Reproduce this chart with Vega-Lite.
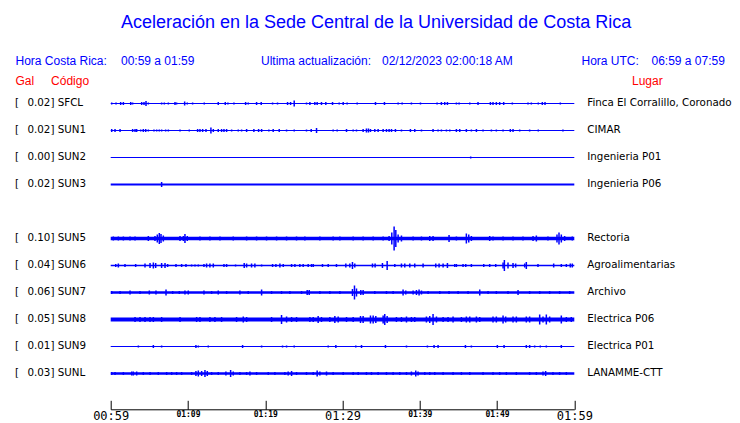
{
  "$schema": "https://vega.github.io/schema/vega-lite/v6.json",
  "width": 463.6,
  "height": 319.3,
  "autosize": {"type": "none"},
  "padding": {"left": 110.7, "top": 90, "right": 165.7, "bottom": 13.7},
  "background": "white",
  "config": {"view": {"stroke": null}},
  "datasets": {
    "stations": [
      {"k": 0, "label": "0.02] SFCL", "place": "Finca El Corralillo, Coronado", "base": 1.2},
      {"k": 1, "label": "0.02] SUN1", "place": "CIMAR", "base": 1.2},
      {"k": 2, "label": "0.00] SUN2", "place": "Ingenieria P01", "base": 1.2},
      {"k": 3, "label": "0.02] SUN3", "place": "Ingenieria P06", "base": 2},
      {"k": 5, "label": "0.10] SUN5", "place": "Rectoria", "base": 3.5},
      {"k": 6, "label": "0.04] SUN6", "place": "Agroalimentarias", "base": 1.6},
      {"k": 7, "label": "0.06] SUN7", "place": "Archivo", "base": 2.5},
      {"k": 8, "label": "0.05] SUN8", "place": "Electrica P06", "base": 4},
      {"k": 9, "label": "0.01] SUN9", "place": "Electrica P01", "base": 1.2},
      {"k": 10, "label": "0.03] SUNL", "place": "LANAMME-CTT", "base": 2.4}
    ],
    "spikes": [
      {"k":0,"t":0.13,"a":2},{"k":0,"t":0.69,"a":2},{"k":0,"t":1.29,"a":3},{"k":0,"t":1.64,"a":3},{"k":0,"t":2.59,"a":3},{"k":0,"t":2.84,"a":2},{"k":0,"t":4.01,"a":3},{"k":0,"t":4.31,"a":3},{"k":0,"t":4.57,"a":5},{"k":0,"t":4.87,"a":2},{"k":0,"t":6.59,"a":2},{"k":0,"t":6.94,"a":2},{"k":0,"t":7.46,"a":2},{"k":0,"t":8.32,"a":3},{"k":0,"t":8.53,"a":2},{"k":0,"t":9.57,"a":4},{"k":0,"t":9.91,"a":2},{"k":0,"t":10.6,"a":2},{"k":0,"t":12.11,"a":2},{"k":0,"t":13.92,"a":3},{"k":0,"t":14.83,"a":3},{"k":0,"t":15.17,"a":2},{"k":0,"t":15.95,"a":2},{"k":0,"t":17.46,"a":3},{"k":0,"t":17.8,"a":2},{"k":0,"t":18.88,"a":3},{"k":0,"t":19.48,"a":3},{"k":0,"t":20.95,"a":2},{"k":0,"t":21.59,"a":2},{"k":0,"t":22.89,"a":3},{"k":0,"t":23.28,"a":3},{"k":0,"t":23.75,"a":6},{"k":0,"t":25.34,"a":2},{"k":0,"t":25.78,"a":3},{"k":0,"t":26.42,"a":3},{"k":0,"t":26.72,"a":3},{"k":0,"t":27.28,"a":3},{"k":0,"t":27.84,"a":3},{"k":0,"t":28.71,"a":3},{"k":0,"t":29.57,"a":2},{"k":0,"t":30.09,"a":3},{"k":0,"t":30.6,"a":2},{"k":0,"t":31.9,"a":2},{"k":0,"t":34.27,"a":3},{"k":0,"t":35.43,"a":3},{"k":0,"t":37.2,"a":2},{"k":0,"t":37.72,"a":2},{"k":0,"t":38.92,"a":2},{"k":0,"t":40.09,"a":2},{"k":0,"t":42.24,"a":2},{"k":0,"t":42.8,"a":3},{"k":0,"t":43.23,"a":3},{"k":0,"t":43.58,"a":3},{"k":0,"t":44.74,"a":2},{"k":0,"t":45.09,"a":2},{"k":0,"t":46.47,"a":2},{"k":0,"t":47.54,"a":3},{"k":0,"t":49.14,"a":3},{"k":0,"t":49.48,"a":3},{"k":0,"t":49.91,"a":3},{"k":0,"t":50.34,"a":3},{"k":0,"t":50.86,"a":3},{"k":0,"t":51.98,"a":2},{"k":0,"t":54.01,"a":2},{"k":0,"t":54.44,"a":2},{"k":0,"t":55.34,"a":2},{"k":0,"t":55.86,"a":3},{"k":0,"t":56.21,"a":3},{"k":0,"t":58.19,"a":2},
      {"k":1,"t":0.13,"a":3},{"k":1,"t":0.56,"a":3},{"k":1,"t":1.21,"a":3},{"k":1,"t":2.84,"a":3},{"k":1,"t":3.15,"a":3},{"k":1,"t":3.36,"a":3},{"k":1,"t":3.88,"a":2},{"k":1,"t":4.22,"a":3},{"k":1,"t":4.53,"a":3},{"k":1,"t":4.87,"a":2},{"k":1,"t":5.6,"a":2},{"k":1,"t":5.95,"a":2},{"k":1,"t":6.29,"a":2},{"k":1,"t":6.59,"a":2},{"k":1,"t":7.11,"a":2},{"k":1,"t":7.46,"a":2},{"k":1,"t":8.97,"a":2},{"k":1,"t":10.17,"a":2},{"k":1,"t":11.25,"a":3},{"k":1,"t":11.55,"a":3},{"k":1,"t":11.9,"a":3},{"k":1,"t":12.33,"a":3},{"k":1,"t":12.97,"a":6},{"k":1,"t":13.28,"a":3},{"k":1,"t":13.92,"a":3},{"k":1,"t":14.35,"a":3},{"k":1,"t":14.66,"a":3},{"k":1,"t":15.0,"a":3},{"k":1,"t":15.65,"a":2},{"k":1,"t":16.51,"a":2},{"k":1,"t":16.94,"a":2},{"k":1,"t":17.59,"a":3},{"k":1,"t":18.53,"a":3},{"k":1,"t":19.14,"a":3},{"k":1,"t":19.53,"a":3},{"k":1,"t":20.47,"a":2},{"k":1,"t":21.03,"a":3},{"k":1,"t":21.81,"a":3},{"k":1,"t":22.76,"a":2},{"k":1,"t":23.75,"a":2},{"k":1,"t":25.34,"a":2},{"k":1,"t":25.95,"a":3},{"k":1,"t":26.64,"a":5},{"k":1,"t":28.79,"a":2},{"k":1,"t":29.31,"a":2},{"k":1,"t":30.52,"a":3},{"k":1,"t":31.38,"a":2},{"k":1,"t":31.81,"a":2},{"k":1,"t":32.67,"a":3},{"k":1,"t":33.1,"a":4},{"k":1,"t":33.36,"a":4},{"k":1,"t":33.62,"a":3},{"k":1,"t":34.18,"a":3},{"k":1,"t":34.61,"a":3},{"k":1,"t":35.26,"a":3},{"k":1,"t":35.69,"a":3},{"k":1,"t":36.03,"a":3},{"k":1,"t":36.34,"a":3},{"k":1,"t":36.85,"a":3},{"k":1,"t":37.63,"a":2},{"k":1,"t":38.79,"a":3},{"k":1,"t":39.35,"a":3},{"k":1,"t":40.22,"a":2},{"k":1,"t":41.72,"a":3},{"k":1,"t":42.37,"a":2},{"k":1,"t":42.8,"a":2},{"k":1,"t":43.45,"a":2},{"k":1,"t":43.88,"a":2},{"k":1,"t":44.74,"a":3},{"k":1,"t":45.17,"a":3},{"k":1,"t":46.03,"a":3},{"k":1,"t":46.68,"a":2},{"k":1,"t":47.33,"a":3},{"k":1,"t":48.19,"a":2},{"k":1,"t":49.27,"a":2},{"k":1,"t":49.91,"a":2},{"k":1,"t":50.78,"a":2},{"k":1,"t":51.72,"a":3},{"k":1,"t":52.07,"a":3},{"k":1,"t":52.93,"a":2},{"k":1,"t":54.22,"a":2},{"k":1,"t":55.34,"a":2},{"k":1,"t":58.53,"a":2},
      {"k":2,"t":46.59,"a":2},
      {"k":3,"t":6.59,"a":5},
      {"k":5,"t":0.34,"a":4},{"k":5,"t":0.99,"a":4},{"k":5,"t":1.64,"a":4},{"k":5,"t":2.5,"a":4},{"k":5,"t":3.15,"a":4},{"k":5,"t":4.87,"a":5},{"k":5,"t":5.73,"a":5},{"k":5,"t":6.03,"a":8},{"k":5,"t":6.29,"a":11},{"k":5,"t":6.51,"a":9},{"k":5,"t":6.81,"a":6},{"k":5,"t":8.97,"a":5},{"k":5,"t":9.4,"a":5},{"k":5,"t":9.61,"a":9},{"k":5,"t":9.91,"a":5},{"k":5,"t":11.55,"a":4},{"k":5,"t":12.84,"a":4},{"k":5,"t":14.14,"a":4},{"k":5,"t":15.86,"a":4},{"k":5,"t":17.59,"a":4},{"k":5,"t":18.88,"a":4},{"k":5,"t":20.17,"a":4},{"k":5,"t":21.47,"a":4},{"k":5,"t":22.76,"a":4},{"k":5,"t":24.05,"a":4},{"k":5,"t":25.13,"a":4},{"k":5,"t":27.07,"a":4},{"k":5,"t":28.79,"a":4},{"k":5,"t":29.66,"a":4},{"k":5,"t":31.38,"a":4},{"k":5,"t":32.67,"a":4},{"k":5,"t":33.97,"a":4},{"k":5,"t":35.26,"a":4},{"k":5,"t":36.03,"a":5},{"k":5,"t":36.38,"a":12},{"k":5,"t":36.68,"a":24},{"k":5,"t":36.9,"a":17},{"k":5,"t":37.2,"a":8},{"k":5,"t":37.63,"a":6},{"k":5,"t":39.14,"a":4},{"k":5,"t":40.22,"a":4},{"k":5,"t":41.29,"a":5},{"k":5,"t":41.72,"a":5},{"k":5,"t":43.79,"a":7},{"k":5,"t":44.74,"a":4},{"k":5,"t":46.03,"a":10},{"k":5,"t":46.34,"a":8},{"k":5,"t":46.68,"a":5},{"k":5,"t":49.05,"a":5},{"k":5,"t":49.48,"a":4},{"k":5,"t":50.78,"a":4},{"k":5,"t":52.07,"a":4},{"k":5,"t":53.36,"a":4},{"k":5,"t":54.66,"a":5},{"k":5,"t":55.09,"a":6},{"k":5,"t":56.59,"a":4},{"k":5,"t":57.76,"a":8},{"k":5,"t":58.02,"a":12},{"k":5,"t":58.32,"a":8},{"k":5,"t":58.75,"a":5},{"k":5,"t":59.74,"a":4},
      {"k":6,"t":0.65,"a":3},{"k":6,"t":0.99,"a":4},{"k":6,"t":1.85,"a":3},{"k":6,"t":3.23,"a":3},{"k":6,"t":4.44,"a":4},{"k":6,"t":5.09,"a":5},{"k":6,"t":5.52,"a":6},{"k":6,"t":5.82,"a":5},{"k":6,"t":6.59,"a":5},{"k":6,"t":7.03,"a":5},{"k":6,"t":7.37,"a":3},{"k":6,"t":8.45,"a":3},{"k":6,"t":9.18,"a":3},{"k":6,"t":9.74,"a":3},{"k":6,"t":10.47,"a":2},{"k":6,"t":10.91,"a":2},{"k":6,"t":11.34,"a":2},{"k":6,"t":12.07,"a":3},{"k":6,"t":12.41,"a":4},{"k":6,"t":12.84,"a":4},{"k":6,"t":13.28,"a":4},{"k":6,"t":14.66,"a":3},{"k":6,"t":15.0,"a":3},{"k":6,"t":16.16,"a":2},{"k":6,"t":17.28,"a":5},{"k":6,"t":17.59,"a":4},{"k":6,"t":18.23,"a":4},{"k":6,"t":18.66,"a":4},{"k":6,"t":19.53,"a":2},{"k":6,"t":20.95,"a":3},{"k":6,"t":21.38,"a":3},{"k":6,"t":21.9,"a":4},{"k":6,"t":22.33,"a":3},{"k":6,"t":23.41,"a":3},{"k":6,"t":23.84,"a":3},{"k":6,"t":24.48,"a":3},{"k":6,"t":24.91,"a":3},{"k":6,"t":25.56,"a":3},{"k":6,"t":25.99,"a":3},{"k":6,"t":26.21,"a":3},{"k":6,"t":27.41,"a":3},{"k":6,"t":28.15,"a":3},{"k":6,"t":29.22,"a":3},{"k":6,"t":30.43,"a":4},{"k":6,"t":30.95,"a":4},{"k":6,"t":31.29,"a":7},{"k":6,"t":31.59,"a":4},{"k":6,"t":33.88,"a":4},{"k":6,"t":34.22,"a":4},{"k":6,"t":35.17,"a":5},{"k":6,"t":35.78,"a":9},{"k":6,"t":36.77,"a":3},{"k":6,"t":37.63,"a":4},{"k":6,"t":38.06,"a":4},{"k":6,"t":38.71,"a":4},{"k":6,"t":39.35,"a":4},{"k":6,"t":40.43,"a":4},{"k":6,"t":42.07,"a":4},{"k":6,"t":42.5,"a":4},{"k":6,"t":43.02,"a":4},{"k":6,"t":43.58,"a":5},{"k":6,"t":44.53,"a":3},{"k":6,"t":44.74,"a":3},{"k":6,"t":45.6,"a":3},{"k":6,"t":45.95,"a":3},{"k":6,"t":46.68,"a":3},{"k":6,"t":48.28,"a":3},{"k":6,"t":49.05,"a":3},{"k":6,"t":49.83,"a":3},{"k":6,"t":50.78,"a":6},{"k":6,"t":50.95,"a":11},{"k":6,"t":51.42,"a":6},{"k":6,"t":52.07,"a":5},{"k":6,"t":52.41,"a":4},{"k":6,"t":53.58,"a":4},{"k":6,"t":53.79,"a":7},{"k":6,"t":55.3,"a":3},{"k":6,"t":57.33,"a":4},{"k":6,"t":58.32,"a":3},{"k":6,"t":58.97,"a":3},{"k":6,"t":59.48,"a":4},{"k":6,"t":59.74,"a":4},
      {"k":7,"t":0.13,"a":3},{"k":7,"t":1.21,"a":3},{"k":7,"t":2.5,"a":4},{"k":7,"t":3.79,"a":3},{"k":7,"t":5.0,"a":4},{"k":7,"t":5.86,"a":4},{"k":7,"t":7.16,"a":6},{"k":7,"t":8.02,"a":3},{"k":7,"t":8.88,"a":3},{"k":7,"t":9.61,"a":4},{"k":7,"t":10.04,"a":4},{"k":7,"t":12.07,"a":4},{"k":7,"t":13.06,"a":3},{"k":7,"t":13.92,"a":4},{"k":7,"t":15.0,"a":3},{"k":7,"t":16.72,"a":4},{"k":7,"t":17.8,"a":3},{"k":7,"t":19.53,"a":6},{"k":7,"t":20.82,"a":3},{"k":7,"t":22.11,"a":3},{"k":7,"t":23.19,"a":3},{"k":7,"t":24.7,"a":3},{"k":7,"t":25.43,"a":5},{"k":7,"t":25.69,"a":5},{"k":7,"t":27.07,"a":3},{"k":7,"t":28.36,"a":3},{"k":7,"t":29.66,"a":3},{"k":7,"t":31.29,"a":7},{"k":7,"t":31.55,"a":14},{"k":7,"t":31.81,"a":8},{"k":7,"t":32.37,"a":5},{"k":7,"t":32.67,"a":5},{"k":7,"t":34.18,"a":3},{"k":7,"t":35.69,"a":3},{"k":7,"t":36.55,"a":3},{"k":7,"t":37.84,"a":6},{"k":7,"t":38.19,"a":4},{"k":7,"t":39.14,"a":4},{"k":7,"t":39.57,"a":5},{"k":7,"t":39.91,"a":6},{"k":7,"t":40.22,"a":4},{"k":7,"t":41.08,"a":3},{"k":7,"t":42.59,"a":3},{"k":7,"t":43.79,"a":3},{"k":7,"t":44.96,"a":3},{"k":7,"t":46.25,"a":3},{"k":7,"t":47.76,"a":6},{"k":7,"t":48.84,"a":3},{"k":7,"t":49.91,"a":3},{"k":7,"t":51.42,"a":3},{"k":7,"t":52.72,"a":5},{"k":7,"t":54.22,"a":3},{"k":7,"t":55.52,"a":3},{"k":7,"t":56.81,"a":3},{"k":7,"t":58.1,"a":3},{"k":7,"t":59.4,"a":3},
      {"k":8,"t":3.15,"a":5},{"k":8,"t":3.79,"a":5},{"k":8,"t":4.44,"a":5},{"k":8,"t":5.09,"a":5},{"k":8,"t":5.52,"a":5},{"k":8,"t":6.59,"a":5},{"k":8,"t":8.97,"a":5},{"k":8,"t":11.12,"a":5},{"k":8,"t":11.55,"a":5},{"k":8,"t":12.84,"a":5},{"k":8,"t":13.49,"a":5},{"k":8,"t":14.35,"a":5},{"k":8,"t":16.29,"a":5},{"k":8,"t":17.16,"a":6},{"k":8,"t":17.59,"a":5},{"k":8,"t":20.82,"a":5},{"k":8,"t":22.11,"a":9},{"k":8,"t":22.76,"a":6},{"k":8,"t":23.41,"a":5},{"k":8,"t":24.05,"a":5},{"k":8,"t":25.78,"a":5},{"k":8,"t":26.21,"a":5},{"k":8,"t":26.85,"a":7},{"k":8,"t":27.28,"a":5},{"k":8,"t":28.36,"a":5},{"k":8,"t":29.01,"a":7},{"k":8,"t":29.44,"a":6},{"k":8,"t":30.52,"a":5},{"k":8,"t":31.38,"a":5},{"k":8,"t":32.33,"a":7},{"k":8,"t":32.67,"a":7},{"k":8,"t":33.62,"a":8},{"k":8,"t":33.97,"a":8},{"k":8,"t":34.31,"a":7},{"k":8,"t":35.26,"a":8},{"k":8,"t":35.47,"a":11},{"k":8,"t":35.78,"a":7},{"k":8,"t":36.98,"a":5},{"k":8,"t":37.63,"a":5},{"k":8,"t":38.28,"a":6},{"k":8,"t":38.92,"a":5},{"k":8,"t":39.35,"a":5},{"k":8,"t":40.86,"a":6},{"k":8,"t":41.29,"a":7},{"k":8,"t":41.72,"a":11},{"k":8,"t":42.16,"a":6},{"k":8,"t":43.02,"a":5},{"k":8,"t":43.66,"a":5},{"k":8,"t":44.31,"a":6},{"k":8,"t":45.39,"a":5},{"k":8,"t":46.03,"a":6},{"k":8,"t":46.47,"a":6},{"k":8,"t":47.33,"a":6},{"k":8,"t":47.76,"a":5},{"k":8,"t":49.48,"a":6},{"k":8,"t":49.91,"a":6},{"k":8,"t":50.78,"a":8},{"k":8,"t":51.12,"a":6},{"k":8,"t":52.07,"a":6},{"k":8,"t":52.5,"a":6},{"k":8,"t":53.79,"a":6},{"k":8,"t":54.22,"a":6},{"k":8,"t":55.52,"a":10},{"k":8,"t":55.95,"a":6},{"k":8,"t":56.38,"a":10},{"k":8,"t":56.81,"a":6},{"k":8,"t":58.32,"a":8},{"k":8,"t":58.97,"a":5},{"k":8,"t":59.61,"a":5},
      {"k":9,"t":3.58,"a":2},{"k":9,"t":5.52,"a":3},{"k":9,"t":6.59,"a":2},{"k":9,"t":11.03,"a":3},{"k":9,"t":11.34,"a":2},{"k":9,"t":12.63,"a":2},{"k":9,"t":17.07,"a":3},{"k":9,"t":19.53,"a":2},{"k":9,"t":22.24,"a":2},{"k":9,"t":22.76,"a":2},{"k":9,"t":23.75,"a":2},{"k":9,"t":28.15,"a":2},{"k":9,"t":29.14,"a":3},{"k":9,"t":31.72,"a":2},{"k":9,"t":32.46,"a":3},{"k":9,"t":35.56,"a":3},{"k":9,"t":38.28,"a":2},{"k":9,"t":40.99,"a":2},{"k":9,"t":41.85,"a":3},{"k":9,"t":42.37,"a":3},{"k":9,"t":45.91,"a":3},{"k":9,"t":46.68,"a":2},{"k":9,"t":50.04,"a":3},{"k":9,"t":50.91,"a":3},{"k":9,"t":53.79,"a":3},{"k":9,"t":54.22,"a":3},{"k":9,"t":54.87,"a":2},{"k":9,"t":55.6,"a":2},{"k":9,"t":56.38,"a":2},{"k":9,"t":58.32,"a":3},
      {"k":10,"t":0.13,"a":3},{"k":10,"t":0.56,"a":3},{"k":10,"t":1.64,"a":3},{"k":10,"t":2.72,"a":4},{"k":10,"t":2.93,"a":4},{"k":10,"t":3.36,"a":4},{"k":10,"t":4.22,"a":3},{"k":10,"t":5.09,"a":3},{"k":10,"t":6.16,"a":3},{"k":10,"t":7.24,"a":3},{"k":10,"t":7.89,"a":3},{"k":10,"t":8.53,"a":3},{"k":10,"t":9.18,"a":3},{"k":10,"t":10.47,"a":3},{"k":10,"t":11.03,"a":5},{"k":10,"t":11.34,"a":6},{"k":10,"t":11.77,"a":5},{"k":10,"t":12.2,"a":7},{"k":10,"t":12.5,"a":5},{"k":10,"t":13.06,"a":3},{"k":10,"t":13.92,"a":3},{"k":10,"t":14.91,"a":4},{"k":10,"t":15.52,"a":7},{"k":10,"t":15.86,"a":4},{"k":10,"t":16.72,"a":3},{"k":10,"t":17.59,"a":3},{"k":10,"t":18.02,"a":4},{"k":10,"t":18.88,"a":3},{"k":10,"t":20.39,"a":3},{"k":10,"t":21.25,"a":3},{"k":10,"t":22.54,"a":3},{"k":10,"t":22.97,"a":4},{"k":10,"t":23.41,"a":5},{"k":10,"t":24.05,"a":3},{"k":10,"t":25.34,"a":3},{"k":10,"t":26.21,"a":3},{"k":10,"t":26.72,"a":6},{"k":10,"t":27.07,"a":4},{"k":10,"t":27.93,"a":4},{"k":10,"t":28.79,"a":3},{"k":10,"t":30.09,"a":3},{"k":10,"t":31.38,"a":3},{"k":10,"t":32.03,"a":3},{"k":10,"t":33.1,"a":3},{"k":10,"t":33.75,"a":3},{"k":10,"t":34.61,"a":3},{"k":10,"t":35.69,"a":3},{"k":10,"t":36.55,"a":3},{"k":10,"t":37.41,"a":3},{"k":10,"t":38.28,"a":3},{"k":10,"t":38.92,"a":4},{"k":10,"t":39.48,"a":6},{"k":10,"t":39.78,"a":4},{"k":10,"t":40.65,"a":3},{"k":10,"t":41.29,"a":3},{"k":10,"t":41.94,"a":3},{"k":10,"t":43.02,"a":3},{"k":10,"t":44.31,"a":3},{"k":10,"t":45.39,"a":3},{"k":10,"t":46.47,"a":3},{"k":10,"t":48.19,"a":3},{"k":10,"t":49.48,"a":3},{"k":10,"t":50.34,"a":3},{"k":10,"t":51.21,"a":3},{"k":10,"t":52.5,"a":3},{"k":10,"t":54.22,"a":3},{"k":10,"t":55.09,"a":3},{"k":10,"t":55.95,"a":4},{"k":10,"t":56.29,"a":5},{"k":10,"t":57.24,"a":3},{"k":10,"t":58.1,"a":3},{"k":10,"t":58.97,"a":3}
    ]
  },
  "layer": [
    {
      "data": {"name": "spikes"},
      "mark": {"type": "tick", "orient": "vertical", "thickness": 1.5, "color": "#0000ff", "opacity": 1},
      "encoding": {
        "x": {
          "field": "t", "type": "quantitative",
          "scale": {"domain": [0, 60], "nice": false, "zero": false},
          "axis": {
            "values": [0, 5, 10, 15, 20, 25, 30, 35, 40, 45, 50, 55, 60],
            "labelExpr": "datum.value % 10 == 0 ? pad(floor((59 + datum.value) / 60) + '', 2, '0', 'left') + ':' + pad(((59 + datum.value) % 60) + '', 2, '0', 'left') : ''",
            "title": null, "grid": false, "domain": true, "ticks": true, "labels": true,
            "tickSize": -9, "tickColor": "black", "tickWidth": 1,
            "domainColor": "black", "domainWidth": 1,
            "labelColor": "black", "labelFont": "DejaVu Sans Mono",
            "labelFontSize": {"condition": {"test": "datum.value % 30 == 0", "value": 12}, "value": 8},
            "labelFontWeight": {"condition": {"test": "datum.value % 30 == 0", "value": "normal"}, "value": "bold"},
            "labelPadding": 9.8, "labelFlush": false, "labelOverlap": false, "labelBound": false
          }
        },
        "y": {"field": "k", "type": "quantitative", "scale": {"domain": [-0.5, 11.326], "reverse": true, "nice": false, "zero": false}, "axis": null},
        "size": {"field": "a", "type": "quantitative", "scale": {"domain": [0, 24], "range": [0, 24]}, "legend": null}
      }
    },
    {
      "data": {"name": "stations"},
      "mark": {"type": "rule", "color": "#0000ff"},
      "encoding": {
        "x": {"datum": 0, "type": "quantitative", "scale": {"domain": [0, 60], "nice": false, "zero": false}},
        "x2": {"datum": 60},
        "y": {"field": "k", "type": "quantitative", "scale": {"domain": [-0.5, 11.326], "reverse": true, "nice": false, "zero": false}, "axis": null},
        "strokeWidth": {"field": "base", "type": "quantitative", "scale": {"domain": [0, 5], "range": [0, 5]}, "legend": null}
      }
    },
    {
      "data": {"name": "stations"},
      "mark": {"type": "text", "text": "[", "align": "left", "baseline": "middle", "font": "DejaVu Sans", "fontSize": 10.3, "color": "black"},
      "encoding": {
        "x": {"datum": -12.38, "type": "quantitative", "scale": {"domain": [0, 60], "nice": false, "zero": false}},
        "y": {"field": "k", "type": "quantitative", "scale": {"domain": [-0.5, 11.326], "reverse": true, "nice": false, "zero": false}, "axis": null}
      }
    },
    {
      "data": {"name": "stations"},
      "mark": {"type": "text", "align": "left", "baseline": "middle", "font": "DejaVu Sans", "fontSize": 10.3, "color": "black"},
      "encoding": {
        "x": {"datum": -10.77, "type": "quantitative", "scale": {"domain": [0, 60], "nice": false, "zero": false}},
        "y": {"field": "k", "type": "quantitative", "scale": {"domain": [-0.5, 11.326], "reverse": true, "nice": false, "zero": false}, "axis": null},
        "text": {"field": "label"}
      }
    },
    {
      "data": {"name": "stations"},
      "mark": {"type": "text", "align": "left", "baseline": "middle", "font": "DejaVu Sans", "fontSize": 10.3, "color": "black"},
      "encoding": {
        "x": {"datum": 61.68, "type": "quantitative", "scale": {"domain": [0, 60], "nice": false, "zero": false}},
        "y": {"field": "k", "type": "quantitative", "scale": {"domain": [-0.5, 11.326], "reverse": true, "nice": false, "zero": false}, "axis": null},
        "text": {"field": "place"}
      }
    },
    {
      "data": {"values": [{"txt": "Aceleración en la Sede Central de la Universidad de Costa Rica"}]},
      "mark": {"type": "text", "align": "center", "baseline": "middle", "font": "Liberation Sans", "fontSize": 18, "color": "#0000ff"},
      "encoding": {
        "x": {"datum": 34.34, "type": "quantitative", "scale": {"domain": [0, 60], "nice": false, "zero": false}},
        "y": {"datum": -3.0, "type": "quantitative", "scale": {"domain": [-0.5, 11.326], "reverse": true, "nice": false, "zero": false}, "axis": null},
        "text": {"field": "txt"}
      }
    },
    {
      "data": {"values": [
        {"txt": "Hora Costa Rica:", "pos": -12.32},
        {"txt": "00:59 a 01:59", "pos": 1.33},
        {"txt": "Ultima actualización:", "pos": 19.45},
        {"txt": "02/12/2023 02:00:18 AM", "pos": 35.11},
        {"txt": "Hora UTC:", "pos": 60.93},
        {"txt": "06:59 a 07:59", "pos": 69.99}
      ]},
      "mark": {"type": "text", "align": "left", "baseline": "middle", "font": "Liberation Sans", "fontSize": 12, "color": "#0000ff"},
      "encoding": {
        "x": {"field": "pos", "type": "quantitative", "scale": {"domain": [0, 60], "nice": false, "zero": false}},
        "y": {"datum": -1.574, "type": "quantitative", "scale": {"domain": [-0.5, 11.326], "reverse": true, "nice": false, "zero": false}, "axis": null},
        "text": {"field": "txt"}
      }
    },
    {
      "data": {"values": [
        {"txt": "Gal", "pos": -12.32},
        {"txt": "Código", "pos": -7.72},
        {"txt": "Lugar", "pos": 67.47}
      ]},
      "mark": {"type": "text", "align": "left", "baseline": "middle", "font": "Liberation Sans", "fontSize": 12, "color": "#ff0000"},
      "encoding": {
        "x": {"field": "pos", "type": "quantitative", "scale": {"domain": [0, 60], "nice": false, "zero": false}},
        "y": {"datum": -0.833, "type": "quantitative", "scale": {"domain": [-0.5, 11.326], "reverse": true, "nice": false, "zero": false}, "axis": null},
        "text": {"field": "txt"}
      }
    }
  ]
}
